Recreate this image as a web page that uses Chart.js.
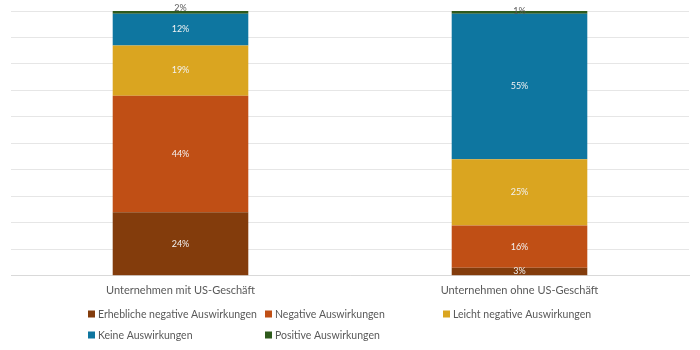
<!DOCTYPE html>
<html>
<head>
<meta charset="utf-8">
<script src="https://cdn.jsdelivr.net/npm/chart.js@4"></script>
<style>
  body { margin: 0; background: #fff; }
  #wrap { width: 700px; height: 350px; }
</style>
</head>
<body>
<div id="wrap"><canvas id="chart"></canvas></div>
<script>
// Categories and series (percent)
const categories = ["Unternehmen mit US-Geschäft", "Unternehmen ohne US-Geschäft"];
const erheblich = [24, 3];
const negativ = [44, 16];
const leicht = [19, 25];
const keine = [12, 55];
const positiv = [2, 1];

const seriesNames = [
    "Erhebliche negative Auswirkungen",
    "Negative Auswirkungen",
    "Leicht negative Auswirkungen",
    "Keine Auswirkungen",
    "Positive Auswirkungen"
];
const seriesColors = ["#833C0C", "#C04F15", "#DAA520", "#0E76A0", "#2E5A1C"];
const seriesValues = [erheblich, negativ, leicht, keine, positiv];

const fontFamily = "Lato, sans-serif";
const textGray = "#595959";

// Draws percentage labels in the middle of each segment
const segmentLabels = {
    id: "segmentLabels",
    afterDatasetsDraw(chart) {
        const ctx = chart.ctx;
        ctx.save();
        ctx.font = "9px " + fontFamily;
        ctx.textAlign = "center";
        ctx.textBaseline = "middle";
        chart.data.datasets.forEach((ds, i) => {
            const meta = chart.getDatasetMeta(i);
            meta.data.forEach((bar, j) => {
                const v = ds.data[j];
                const mid = (bar.y + bar.base) / 2;
                if (i === 4) {
                    // small top segment: label sits on the top edge, in gray
                    ctx.fillStyle = textGray;
                    ctx.fillText(v + "%", bar.x, bar.y);
                } else {
                    ctx.fillStyle = "#F2F2F2";
                    ctx.fillText(v + "%", bar.x, mid);
                }
            });
        });
        ctx.restore();
    }
};

// Legend in three left-aligned columns, like the Excel original
const gridLegend = {
    id: "gridLegend",
    afterDraw(chart) {
        const ctx = chart.ctx;
        const colX = [88, 265, 443];
        const rowY = [314, 335];
        ctx.save();
        ctx.font = "10.5px " + fontFamily;
        ctx.textBaseline = "middle";
        ctx.textAlign = "left";
        seriesNames.forEach((name, i) => {
            const x = colX[i % 3];
            const y = rowY[Math.floor(i / 3)];
            ctx.fillStyle = seriesColors[i];
            ctx.fillRect(x, y - 3.5, 7, 7);
            ctx.fillStyle = textGray;
            ctx.fillText(name, x + 10, y + 0.5);
        });
        ctx.restore();
    }
};

const datasets = seriesNames.map((name, i) => ({
    label: name,
    data: seriesValues[i],
    backgroundColor: seriesColors[i],
    borderWidth: 0,
    barPercentage: 0.4,
    categoryPercentage: 1.0
}));

new Chart(document.getElementById("chart"), {
    type: "bar",
    data: { labels: categories, datasets: datasets },
    plugins: [segmentLabels, gridLegend],
    options: {
        responsive: true,
        maintainAspectRatio: false,
        animation: false,
        layout: { padding: { left: 11, right: 11, top: 11, bottom: 45 } },
        plugins: {
            legend: { display: false },
            tooltip: { enabled: false }
        },
        scales: {
            x: {
                stacked: true,
                grid: { display: false, drawTicks: false },
                border: { color: "#D9D9D9" },
                ticks: {
                    color: textGray,
                    font: { family: fontFamily, size: 11 },
                    padding: 8
                }
            },
            y: {
                stacked: true,
                min: 0,
                max: 100,
                ticks: { display: false, stepSize: 10 },
                border: { display: false },
                grid: { color: "#E6E6E6", drawTicks: false }
            }
        }
    }
});
</script>
</body>
</html>
